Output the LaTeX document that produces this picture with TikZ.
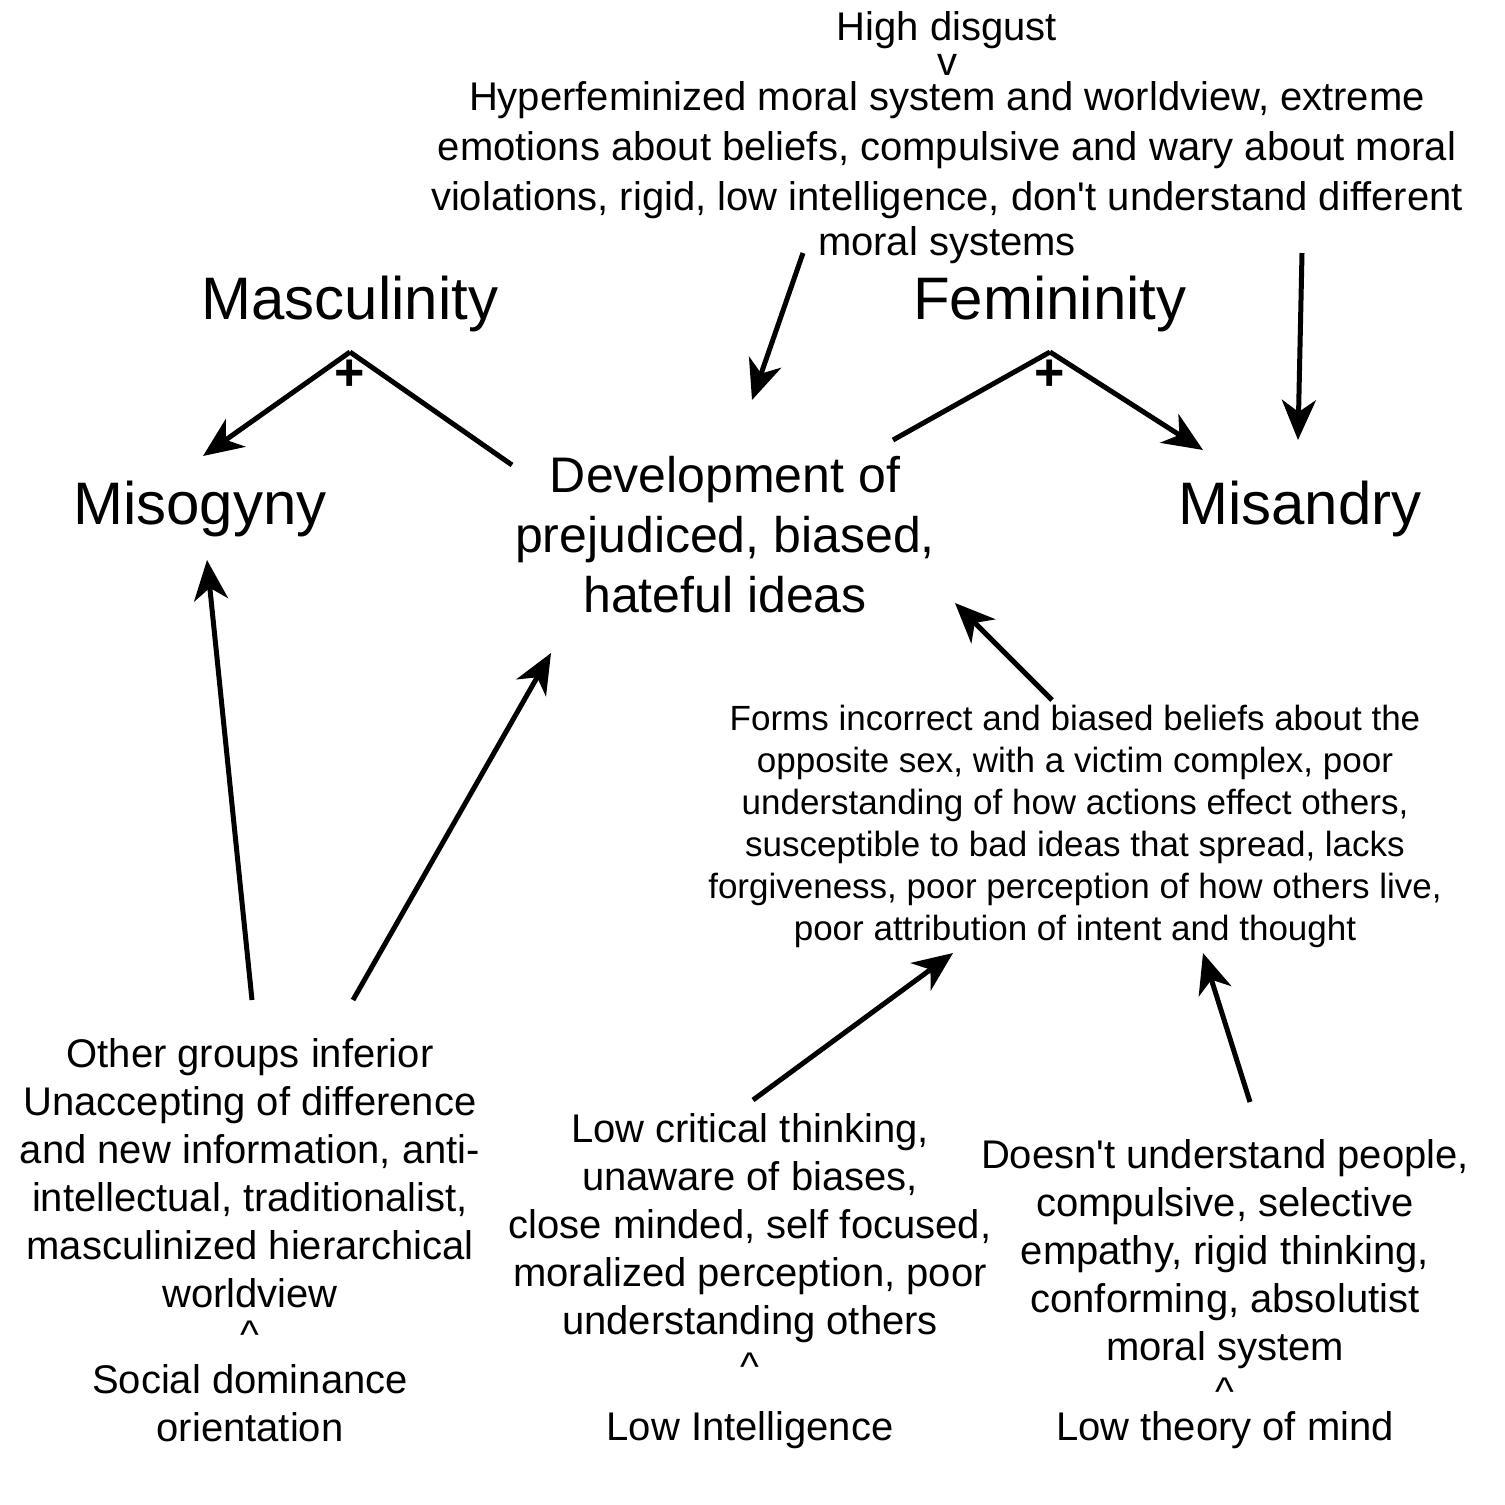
\documentclass[tikz,border=0pt]{standalone}
\usepackage{fontspec}
\setmainfont{Liberation Sans}
\usetikzlibrary{arrows.meta}
\tikzset{
  conn/.style={line width=5pt},
  arr/.style={conn,-{Stealth[length=40pt,width=34pt,inset=12pt]}},
  txt/.style={align=center,inner sep=0pt},
  big/.style={txt,font=\fontsize{60}{72}\selectfont},
  mid/.style={txt,font=\fontsize{50}{60}\selectfont},
  topf/.style={txt,font=\fontsize{40}{50}\selectfont},
  body/.style={txt,font=\fontsize{40}{48}\selectfont},
  small/.style={txt,font=\fontsize{35}{42}\selectfont},
  plus/.style={txt,font=\fontsize{52}{52}\selectfont\bfseries},
}
\begin{document}
\begin{tikzpicture}[x=1pt,y=-1pt]
\useasboundingbox (0,0) rectangle (1505,1505);
\fill[white] (0,0) rectangle (1505,1505);

\node[topf] (disgust) at (947,138) {High disgust\\[-15pt]v\\[-15pt]Hyperfeminized moral system and worldview, extreme\\emotions about beliefs, compulsive and wary about moral\\violations, rigid, low intelligence, don\textquotesingle t understand different\\[-5pt]moral systems};

\node[big] (masc) at (350,304) {Masculinity};
\node[big] (fem) at (1050,304) {Femininity};
\node[big] (miso) at (200,509) {Misogyny};
\node[big] (misa) at (1300,509) {Misandry};
\node[mid] (dev) at (725,535) {Development of\\prejudiced, biased,\\hateful ideas};

\node[small] (forms) at (1075,826) {Forms incorrect and biased beliefs about the\\opposite sex, with a victim complex, poor\\understanding of how actions effect others,\\susceptible to bad ideas that spread, lacks\\forgiveness, poor perception of how others live,\\poor attribution of intent and thought};

\node[body] (sdo) at (250,1240) {Other groups inferior\\Unaccepting of difference\\and new information, anti-\\intellectual, traditionalist,\\masculinized hierarchical\\worldview\\[-7pt]\textasciicircum\\[-3pt]Social dominance\\orientation};

\node[body] (lowint) at (750,1281) {Low critical thinking,\\unaware of biases,\\close minded, self focused,\\moralized perception, poor\\understanding others\\[-2pt]\textasciicircum\\[12pt]Low Intelligence};

\node[body] (tom) at (1225,1294) {Doesn\textquotesingle t understand people,\\compulsive, selective\\empathy, rigid thinking,\\conforming, absolutist\\moral system\\[-3pt]\textasciicircum\\[-13pt]Low theory of mind};

\node[plus] (p1) at (350,375) {+};
\node[plus] (p2) at (1050,375) {+};

% coordinates for connector ends
\coordinate (mv) at (350,352);
\coordinate (mtip) at (203,456);
\coordinate (mr) at (512,465);
\coordinate (fv) at (1050,352);
\coordinate (fl) at (893,440);
\coordinate (ftip) at (1203,450);
\coordinate (d1s) at (803,253);
\coordinate (d1t) at (752,400);
\coordinate (d2s) at (1302,253);
\coordinate (d2t) at (1298,440);
\coordinate (fs) at (1052,700);
\coordinate (ft) at (955,603);
\coordinate (s1s) at (252,1000);
\coordinate (s1t) at (207,560);
\coordinate (s2s) at (353,1000);
\coordinate (s2t) at (551,653);
\coordinate (l1s) at (753,1100);
\coordinate (l1t) at (953,953);
\coordinate (t1s) at (1250,1102);
\coordinate (t1t) at (1203,953);

\draw[arr] (mv) -- (mtip);
\draw[conn] (mv) -- (mr);
\draw[conn] (fl) -- (fv);
\draw[arr] (fv) -- (ftip);
\draw[arr] (d1s) -- (d1t);
\draw[arr] (d2s) -- (d2t);
\draw[arr] (fs) -- (ft);
\draw[arr] (s1s) -- (s1t);
\draw[arr] (s2s) -- (s2t);
\draw[arr] (l1s) -- (l1t);
\draw[arr] (t1s) -- (t1t);
\end{tikzpicture}
\end{document}
